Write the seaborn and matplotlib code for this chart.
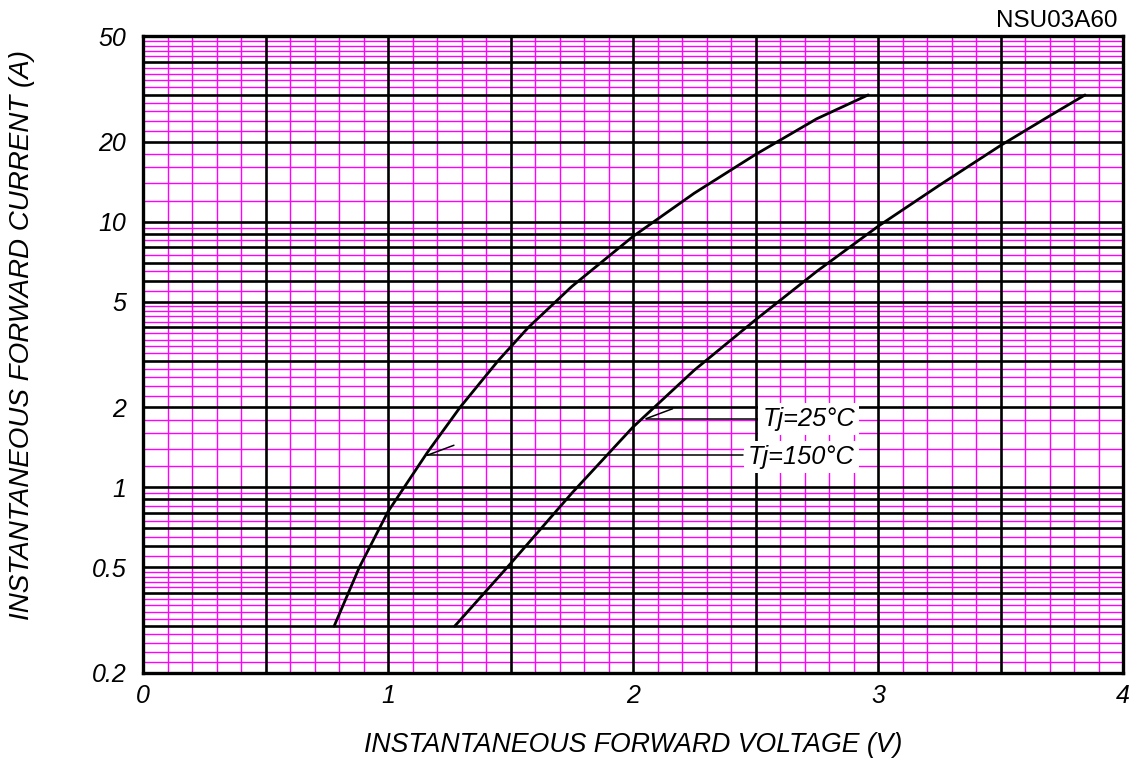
import matplotlib
matplotlib.use("Agg")
import matplotlib.pyplot as plt
import seaborn as sns
import pandas as pd

# ---- data ----
v_150 = [0.780, 0.883, 1.000, 1.160, 1.294, 1.450, 1.573, 1.750, 2.000, 2.250, 2.500, 2.750, 2.960]
i_150 = [0.30, 0.50, 0.81, 1.35, 2.00, 3.00, 4.00, 5.70, 8.80, 12.8, 17.9, 24.4, 30.0]

v_25 = [1.272, 1.500, 1.750, 2.000, 2.250, 2.500, 2.750, 3.000, 3.250, 3.500, 3.700, 3.845]
i_25 = [0.30, 0.516, 0.95, 1.686, 2.76, 4.27, 6.50, 9.6, 13.7, 19.35, 25.0, 30.0]

series_labels = ["Tj=150°C", "Tj=25°C"]

x_ticks = [0, 1, 2, 3, 4]
y_ticks = [0.2, 0.5, 1, 2, 5, 10, 20, 50]
y_tick_labels = ["0.2", "0.5", "1", "2", "5", "10", "20", "50"]

y_major_lines = [0.3, 0.4, 0.5, 0.6, 0.7, 0.8, 0.9, 1, 2, 3, 4, 5, 6, 7, 8, 9, 10, 20, 30, 40]
y_minor_lines = [0.22, 0.24, 0.26, 0.28, 0.32, 0.34, 0.36, 0.38, 0.42, 0.44, 0.46, 0.48,
                 0.55, 0.65, 0.75, 0.85, 0.95,
                 1.2, 1.4, 1.6, 1.8, 2.2, 2.4, 2.6, 2.8, 3.2, 3.4, 3.6, 3.8, 4.2, 4.4, 4.6, 4.8,
                 5.5, 6.5, 7.5, 8.5, 9.5,
                 12, 14, 16, 18, 22, 24, 26, 28, 32, 34, 36, 38, 42, 44, 46, 48]
x_major_lines = [0.5, 1.0, 1.5, 2.0, 2.5, 3.0, 3.5]
x_minor_lines = [0.1, 0.2, 0.3, 0.4, 0.6, 0.7, 0.8, 0.9, 1.1, 1.2, 1.3, 1.4, 1.6, 1.7, 1.8, 1.9,
                 2.1, 2.2, 2.3, 2.4, 2.6, 2.7, 2.8, 2.9, 3.1, 3.2, 3.3, 3.4, 3.6, 3.7, 3.8, 3.9]

df = pd.concat([
    pd.DataFrame({"V": v_150, "I": i_150, "Tj": series_labels[0]}),
    pd.DataFrame({"V": v_25, "I": i_25, "Tj": series_labels[1]}),
], ignore_index=True)

sns.set_style("white")
plt.rcParams["font.family"] = ["Liberation Sans", "DejaVu Sans"]
plt.rcParams["text.color"] = "black"
plt.rcParams["axes.labelcolor"] = "black"
plt.rcParams["xtick.color"] = "black"
plt.rcParams["ytick.color"] = "black"

fig = plt.figure(figsize=(11.46, 7.63), dpi=100)
ax = fig.add_axes([143 / 1146, 90 / 763, 980 / 1146, 637 / 763])
ax.set_yscale("log")
ax.set_xlim(0, 4)
ax.set_ylim(0.2, 50)
ax.set_facecolor("white")

MAG = "#FF00FF"
for y in y_minor_lines:
    ax.axhline(y, color=MAG, lw=1.0, zorder=1)
for x in x_minor_lines:
    ax.axvline(x, color=MAG, lw=1.0, zorder=1)
for y in y_major_lines:
    ax.axhline(y, color="black", lw=1.9, zorder=2)
for x in x_major_lines:
    ax.axvline(x, color="black", lw=1.9, zorder=2)

sns.lineplot(data=df, x="V", y="I", hue="Tj", units="Tj", estimator=None, sort=False,
             palette={series_labels[0]: "black", series_labels[1]: "black"},
             legend=False, linewidth=2.0, ax=ax, zorder=3)

# leader lines and labels
lead_kw = dict(color="black", lw=1.1, zorder=3)
ax.plot([2.054, 2.513], [1.814, 1.814], **lead_kw)
ax.plot([2.054, 2.162], [1.814, 1.977], **lead_kw)
ax.plot([1.160, 2.449], [1.32, 1.32], **lead_kw)
ax.plot([1.160, 1.269], [1.32, 1.44], **lead_kw)

bbox = dict(facecolor="white", edgecolor="none", pad=3)
ax.text(2.528, 1.814, series_labels[1], fontsize=18.3, style="italic", ha="left", va="center",
        bbox=bbox, zorder=4)
ax.text(2.47, 1.30, series_labels[0], fontsize=18.3, style="italic", ha="left", va="center",
        bbox=bbox, zorder=4)

ax.set_xticks(x_ticks)
ax.set_xticklabels([str(t) for t in x_ticks])
ax.set_yticks(y_ticks)
ax.set_yticklabels(y_tick_labels)
ax.minorticks_off()
ax.tick_params(axis="both", length=0, labelsize=18)
ax.tick_params(axis="x", pad=8)
ax.tick_params(axis="y", pad=12)
for lab in ax.get_xticklabels() + ax.get_yticklabels():
    lab.set_fontstyle("italic")

ax.set_xlabel("INSTANTANEOUS FORWARD VOLTAGE (V)", fontsize=19.2, style="italic", va="center")
ax.set_ylabel("INSTANTANEOUS FORWARD CURRENT (A)", fontsize=20, style="italic", va="center")
ax.xaxis.set_label_coords(0.500, -0.113)
ax.yaxis.set_label_coords(-0.1235, 0.53)

for s in ax.spines.values():
    s.set_visible(True)
    s.set_color("black")
    s.set_linewidth(2.4)
    s.set_zorder(5)

fig.text(1117 / 1146, 1 - 27.3 / 763, "NSU03A60", fontsize=17.5, ha="right", va="baseline")

fig.savefig("out.png", dpi=100, facecolor="white")
